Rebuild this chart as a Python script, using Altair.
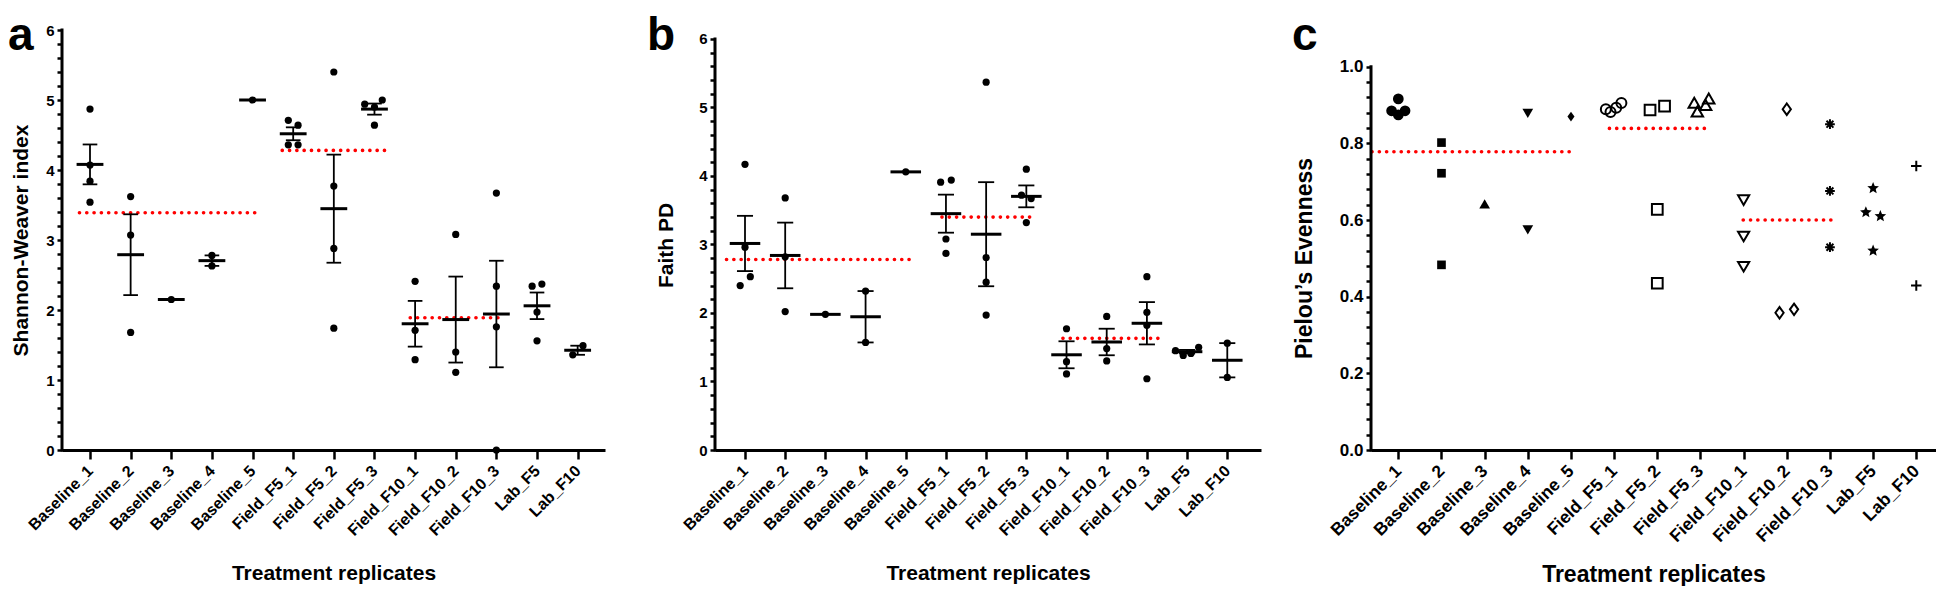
import json
import math
import altair as alt
import pandas as pd

FONT = "Liberation Sans"

CATS = ["Baseline_1", "Baseline_2", "Baseline_3", "Baseline_4", "Baseline_5",
        "Field_F5_1", "Field_F5_2", "Field_F5_3", "Field_F10_1", "Field_F10_2",
        "Field_F10_3", "Lab_F5", "Lab_F10"]

# ---------------- panel a : Shannon-Weaver index ----------------
AB_CAT = (["Baseline_1"] * 4 + ["Baseline_2"] * 3 + ["Baseline_3"] + ["Baseline_4"] * 2 + ["Baseline_5"]
          + ["Field_F5_1"] * 4 + ["Field_F5_2"] * 4 + ["Field_F5_3"] * 4
          + ["Field_F10_1"] * 3 + ["Field_F10_2"] * 3 + ["Field_F10_3"] * 4
          + ["Lab_F5"] * 4 + ["Lab_F10"] * 2)
A_VAL = [4.87, 4.07, 3.84, 3.54, 3.62, 3.07, 1.68, 2.15, 2.78, 2.63, 5.00,
         4.71, 4.64, 4.36, 4.36, 5.40, 3.77, 2.88, 1.74, 4.94, 5.00, 4.90, 4.64,
         2.41, 1.71, 1.29, 3.08, 1.40, 1.11, 3.67, 2.34, 1.76, 0.00,
         2.34, 2.37, 1.97, 1.56, 1.49, 1.36]
A_SPREAD = [0, 0, 0, 0, 0, 0, 0, 0, 0, 0, 0,
            -1, 1, -1, 1, 0, 0, 0, 0, -2, 1.6, 0, 0,
            0, 0, 0, 0, 0, 0, 0, 0, 0, 0,
            -1, 1, 0, 0, 1.1, -1]
A_GRP_MEAN = [3.39, 4.28, 1.89]
A_GRP_FROM = [0.74, 5.73, 8.88]
A_GRP_TO = [5.07, 8.39, 11.2]

# ---------------- panel b : Faith PD ----------------
B_VAL = [4.17, 2.96, 2.53, 2.40, 3.68, 2.82, 2.02, 1.98, 2.32, 1.57, 4.06,
         3.91, 3.94, 3.08, 2.87, 5.37, 2.81, 2.45, 1.97, 4.10, 3.72, 3.67, 3.32,
         1.77, 1.29, 1.11, 1.95, 1.48, 1.30, 2.53, 2.01, 1.82, 1.04,
         1.45, 1.38, 1.41, 1.50, 1.56, 1.06]
B_SPREAD = [0, 0, 1.1, -1, 0, 0, 0, 0, 0, 0, 0,
            -1.1, 1.1, 0, 0, 0, 0, 0, 0, 0, -1, 1, 0,
            0, 0, 0, 0, 0, 0, 0, 0, 0, 0,
            -2.4, -0.8, 0.8, 2.4, 0, 0]
B_GRP_MEAN = [2.78, 3.40, 1.63]
B_GRP_FROM = [0.54, 5.90, 8.91]
B_GRP_TO = [5.12, 8.21, 11.42]

# ---------------- panel c : Pielou's evenness ----------------
C_CAT = (["Baseline_1"] * 4 + ["Baseline_2"] * 3 + ["Baseline_3"] + ["Baseline_4"] * 2 + ["Baseline_5"]
         + ["Field_F5_1"] * 4 + ["Field_F5_2"] * 4 + ["Field_F5_3"] * 4
         + ["Field_F10_1"] * 3 + ["Field_F10_2"] * 3 + ["Field_F10_3"] * 3
         + ["Lab_F5"] * 4 + ["Lab_F10"] * 2)
C_VAL = [0.916, 0.885, 0.885, 0.874, 0.802, 0.722, 0.483, 0.642, 0.878, 0.574, 0.870,
         0.889, 0.882, 0.893, 0.905, 0.887, 0.897, 0.628, 0.435, 0.906, 0.917, 0.883, 0.900,
         0.652, 0.557, 0.478, 0.889, 0.358, 0.367, 0.850, 0.676, 0.529,
         0.683, 0.620, 0.610, 0.520, 0.741, 0.429]
C_SPREAD = [0, -1.3, 1.3, 0, 0, 0, 0, 0, 0, 0, 0,
            -1.6, -0.7, 0.4, 1.4, -1.4, 1.4, 0, 0, -1.2, 1.6, -0.6, 1.0,
            0, 0, 0, 0, -1.4, 1.4, 0, 0, 0,
            0, -1.4, 1.4, 0, 0, 0]
C_GRP_MEAN = [0.778, 0.839, 0.600]
C_GRP_FROM = [0.39, 5.89, 8.99]
C_GRP_TO = [5.07, 8.12, 11.03]

# ---------------- styles ----------------
JIT = 0.12
XTITLE = "Treatment replicates"
LABEL_EXPR = json.dumps(CATS) + "[datum.value - 1]"
LETTER_FS = 46
LETTER_BASE = 20      # baseline of panel letters, px below the plot top


def star_path(n=5, r_in=0.45):
    pts = []
    for i in range(2 * n):
        r = 1 if i % 2 == 0 else r_in
        a = -math.pi / 2 + i * math.pi / n
        pts.append(f"{r * math.cos(a):.3f},{r * math.sin(a):.3f}")
    return "M" + "L".join(pts) + "Z"


ASTERISK = "M0,-1L0,1M-1,0L1,0M-0.71,-0.71L0.71,0.71M-0.71,0.71L0.71,-0.71"
PLUS = "M-1,0L1,0M0,-1L0,1"
TALL_DIAMOND = "M0,-1L0.72,0L0,1L-0.72,0Z"
C_SHAPES = ["circle", "square", "triangle-up", "triangle-down", TALL_DIAMOND,
            "circle", "square", "triangle-up", "triangle-down", TALL_DIAMOND,
            ASTERISK, star_path(), PLUS]
C_SIZES = [115, 75, 115, 115, 95, 100, 115, 130, 125, 130, 95, 150, 110]
C_FILLED = ["Baseline_1", "Baseline_2", "Baseline_3", "Baseline_4", "Baseline_5", "Lab_F5"]
C_OPEN = [c for c in CATS if c not in C_FILLED]


def points_df(cat, val, spread):
    return pd.DataFrame({"cat": cat, "idx": [CATS.index(c) + 1 for c in cat],
                         "value": val, "spread": spread})


def groups_df(m, f, t):
    return pd.DataFrame({"m": m, "x1": f, "x2": t})


def make_axes(xdom, ydom, yvals, yexpr, ylab_fs, ytitle, ytx, yty, ytitle_fs,
              xlab_fs, xtitle_y, xtitle_fs):
    xs = alt.Scale(domain=xdom, nice=False, zero=False)
    ys = alt.Scale(domain=ydom, nice=False, zero=False)
    xa = alt.Axis(values=list(range(1, 14)), labelExpr=LABEL_EXPR, labelAngle=-45,
                  labelAlign="right", labelBaseline="middle", labelFontSize=xlab_fs,
                  labelPadding=9, labelFlush=False, labelOverlap=False,
                  tickSize=9, tickWidth=2.5, tickColor="black",
                  domain=True, domainWidth=3, domainColor="black", grid=False,
                  title=XTITLE, titleY=xtitle_y, titleBaseline="alphabetic",
                  titleFontSize=xtitle_fs)
    ya = alt.Axis(values=yvals, labelExpr=yexpr, labelFontSize=ylab_fs, labelPadding=3,
                  labelOverlap=False, labelFlush=False, tickSize=5, tickWidth=2.5,
                  tickColor="black", domain=False, grid=False, title=ytitle,
                  titleX=ytx, titleY=yty, titleAngle=-90, titleAlign="center",
                  titleBaseline="middle", titleFontSize=ytitle_fs)

    def X(f):
        return alt.X(f, type="quantitative", scale=xs, axis=xa, title=XTITLE)

    def Y(f):
        return alt.Y(f, type="quantitative", scale=ys, axis=ya, title=ytitle)

    return X, Y


def common_layers(X, Y, gdf, ymax, letter, letter_x):
    red = alt.Chart(gdf).mark_rule(color="#ff0000", strokeWidth=3.6, strokeDash=[0.1, 7.2],
                                   strokeCap="round").encode(x=X("x1"), x2="x2", y=Y("m"))
    yline = alt.Chart(pd.DataFrame({"lo": [0], "hi": [ymax]})).mark_rule(
        strokeWidth=3, color="black", strokeCap="square").encode(
        x=alt.value(0), y=Y("lo"), y2="hi")
    let = alt.Chart(pd.DataFrame({"t": [letter]})).mark_text(
        align="left", baseline="alphabetic", fontSize=LETTER_FS, fontWeight="bold",
        font=FONT, color="black").encode(x=alt.value(letter_x), y=alt.value(LETTER_BASE), text="t:N")
    # invisible anchor keeping the top of the layout 22 px above the plot area
    anchor = alt.Chart(pd.DataFrame({"t": [letter]})).mark_point(
        size=1, opacity=0, filled=True).encode(x=alt.value(0), y=alt.value(-21.5))
    return red, yline, let, anchor


def sem_panel(df, gdf, X, Y, ymax, letter, letter_x, mean_hw, cap_hw, width):
    dots = alt.Chart(df).transform_calculate(
        xj=f"datum.idx + datum.spread * {JIT}").mark_circle(
        size=52, color="black", opacity=1).encode(x=X("xj"), y=Y("value"))
    agg = alt.Chart(df).transform_aggregate(
        m="mean(value)", se="stderr(value)", n="count()", groupby=["idx"]).transform_calculate(
        lo="datum.m - datum.se", hi="datum.m + datum.se",
        ml=f"datum.idx - {mean_hw}", mr=f"datum.idx + {mean_hw}",
        cl=f"datum.idx - {cap_hw}", cr=f"datum.idx + {cap_hw}")
    mean_bar = agg.mark_rule(strokeWidth=3, color="black").encode(x=X("ml"), x2="mr", y=Y("m"))
    multi = agg.transform_filter("datum.n > 1")
    err = multi.mark_rule(strokeWidth=1.8, color="black").encode(x=X("idx"), y=Y("lo"), y2="hi")
    cap_hi = multi.mark_rule(strokeWidth=1.8, color="black").encode(x=X("cl"), x2="cr", y=Y("hi"))
    cap_lo = multi.mark_rule(strokeWidth=1.8, color="black").encode(x=X("cl"), x2="cr", y=Y("lo"))
    red, yline, let, anchor = common_layers(X, Y, gdf, ymax, letter, letter_x)
    return alt.layer(red, err, cap_hi, cap_lo, mean_bar, dots, yline, let, anchor).properties(
        width=width, height=420)


INT_EXPR = "abs(datum.value - round(datum.value)) < 0.001 ? format(datum.value, 'd') : ''"
TENTH_EXPR = "abs(datum.value * 5 - round(datum.value * 5)) < 0.001 ? format(datum.value, '.1f') : ''"
Y6_VALS = [round(i * 0.2, 2) for i in range(31)]
Y1_VALS = [round(i * 0.04, 2) for i in range(26)]

# panel a
Xa, Ya = make_axes([0.311, 13.673], [0, 6], Y6_VALS, INT_EXPR, 15, "Shannon-Weaver index",
                   -41, 210, 21, 16, 129, 21)
pa = sem_panel(points_df(AB_CAT, A_VAL, A_SPREAD), groups_df(A_GRP_MEAN, A_GRP_FROM, A_GRP_TO),
               Xa, Ya, 6, "a", -54, 0.33, 0.18, 543)

# panel b
Xb, Yb = make_axes([0.2535, 13.839], [0, 6.131], Y6_VALS, INT_EXPR, 15, "Faith PD",
                   -49, 215, 21, 16, 129, 21)
pb = sem_panel(points_df(AB_CAT, B_VAL, B_SPREAD), groups_df(B_GRP_MEAN, B_GRP_FROM, B_GRP_TO),
               Xb, Yb, 6, "b", -68, 0.38, 0.2, 546)

# panel c
Xc, Yc = make_axes([0.367, 13.457], [0, 1.0957], Y1_VALS, TENTH_EXPR, 17, "Pielou’s Evenness",
                   -67, 228, 23, 17.5, 131, 23)
cdf = points_df(C_CAT, C_VAL, C_SPREAD)
shape_enc = alt.Shape("cat:N", scale=alt.Scale(domain=CATS, range=C_SHAPES), legend=None)
size_enc = alt.Size("cat:N", scale=alt.Scale(type="ordinal", domain=CATS, range=C_SIZES), legend=None)
c_base = alt.Chart(cdf).transform_calculate(xj=f"datum.idx + datum.spread * {JIT}")
c_filled = c_base.transform_filter(alt.FieldOneOfPredicate(field="cat", oneOf=C_FILLED)).mark_point(
    filled=True, opacity=1, color="black").encode(x=Xc("xj"), y=Yc("value"), shape=shape_enc, size=size_enc)
c_open = c_base.transform_filter(alt.FieldOneOfPredicate(field="cat", oneOf=C_OPEN)).mark_point(
    filled=False, opacity=1, color="black", strokeWidth=2).encode(
    x=Xc("xj"), y=Yc("value"), shape=shape_enc, size=size_enc)
red_c, yline_c, let_c, anchor_c = common_layers(
    Xc, Yc, groups_df(C_GRP_MEAN, C_GRP_FROM, C_GRP_TO), 1.0, "c", -79)
pc = alt.layer(red_c, c_filled, c_open, yline_c, let_c, anchor_c).properties(width=565, height=420)

chart = alt.hconcat(pa, pb, pc, spacing=110, bounds="flush").properties(
    padding=0, background="white"
).configure_view(stroke=None).configure_axis(
    labelFont=FONT, titleFont=FONT, labelFontWeight="bold", titleFontWeight="bold",
    labelColor="black", titleColor="black"
)

chart.save("out.html", embed_options={"renderer": "svg", "actions": False})
